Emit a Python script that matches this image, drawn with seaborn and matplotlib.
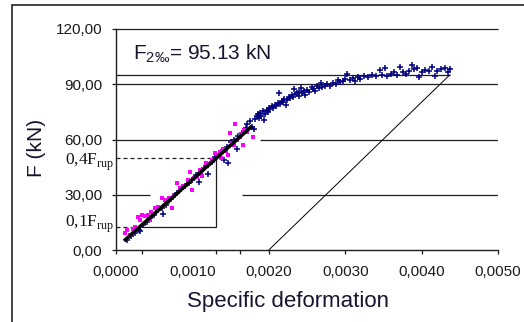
import matplotlib
matplotlib.use('Agg')
import matplotlib.pyplot as plt
import seaborn as sns
import pandas as pd
from matplotlib.patches import Rectangle

sns.set_theme(style='white')
plt.rcParams['font.family'] = ['Liberation Sans', 'DejaVu Sans']

# ---- data (strain in units of 0.001, force in kN) ----
blue_eps = [0.15, 0.2, 0.25, 0.3, 0.35, 0.4, 0.45, 0.5, 0.55, 0.6, 0.65, 0.7, 0.75, 0.8,
            0.85, 0.9, 0.95, 1.0, 1.05, 1.1, 1.15, 1.2, 1.25, 1.3, 1.35, 1.4, 1.45, 1.5,
            1.55, 1.6, 1.65, 1.7, 0.62, 1.08, 1.42, 1.58, 1.2, 0.32, 1.47,
            1.72, 1.76, 1.78, 1.80, 1.82, 1.84, 1.86, 1.87, 1.89, 1.9, 1.92, 1.94, 1.95,
            1.97, 1.99, 2.0, 2.02, 2.04, 2.06, 2.08, 2.1, 2.12, 2.13, 2.15, 2.17, 2.19,
            2.2, 2.22, 2.24, 2.26, 2.28, 2.3, 2.32, 2.33, 2.35, 2.37, 2.39, 2.4, 2.42,
            2.44, 2.46, 2.48, 2.5, 2.53, 2.56, 2.58, 2.6, 2.63, 2.66, 2.68, 2.7, 2.73,
            2.76, 2.8, 2.84, 2.88, 2.9, 2.93, 2.97, 3.0, 3.02, 3.06, 3.1, 3.13, 3.17,
            3.2, 3.25, 3.3, 3.35, 3.4, 3.45, 3.48, 3.52, 3.55, 3.6, 3.64, 3.68, 3.72,
            3.76, 3.8, 3.84, 3.88, 3.9, 3.94, 3.97, 4.0, 4.05, 4.1, 4.14, 4.17, 4.2,
            4.25, 4.3, 4.34, 4.37]
blue_F = [5.5, 7.5, 9.5, 11.0, 13.5, 15.0, 17.5, 19.0, 21.5, 23.0, 24.5, 26.5, 29.0, 31.0,
          33.0, 34.5, 36.5, 38.0, 40.5, 42.0, 44.5, 46.0, 48.0, 50.5, 52.0, 54.5, 56.0, 58.5,
          60.0, 62.0, 63.5, 66.0, 19.5, 37.0, 49.0, 55.0, 41.5, 10.2, 47.5,
          68.5, 69.8, 67.0, 65.5, 71.0, 72.5, 73.8, 71.5, 74.5, 73.0, 75.5, 70.5, 74.0,
          76.0, 75.0, 77.0, 76.5, 78.0, 77.0, 79.0, 78.2, 80.0, 85.0, 79.5, 81.0, 80.5,
          82.0, 78.5, 81.5, 83.0, 82.5, 84.0, 83.0, 87.5, 84.5, 85.5, 83.5, 86.0, 88.0,
          85.0, 86.5, 84.0, 87.0, 86.0, 88.5, 87.5, 86.5, 89.0, 87.8, 90.5, 88.5, 89.0,
          90.0, 89.2, 90.8, 90.0, 92.5, 91.0, 91.8, 93.0, 95.5, 92.5, 93.5, 92.0, 93.8,
          93.0, 94.5, 93.8, 95.2, 94.5, 97.5, 95.0, 98.8, 94.3, 95.5, 96.5, 95.0, 99.5,
          96.5, 95.5, 97.2, 100.5, 98.5, 99.0, 94.0, 96.5, 98.0, 97.0, 99.2, 94.5, 97.0,
          98.2, 99.0, 96.5, 98.3]

mag_eps = [0.12, 0.14, 0.18, 0.22, 0.29, 0.31, 0.34, 0.38, 0.42, 0.46, 0.51, 0.55, 0.6,
           0.64, 0.68, 0.73, 0.76, 0.8, 0.84, 0.88, 0.94, 0.97, 0.99, 1.02, 1.06, 1.1,
           1.14, 1.18, 1.22, 1.26, 1.3, 1.33, 1.36, 1.4, 1.44, 1.47, 1.49, 1.52, 1.55,
           1.56, 1.59, 1.62, 1.64, 1.66, 1.68, 1.72, 1.79, 0.25, 0.45, 0.7, 1.12, 1.38]
mag_F = [9.2, 10.9, 8.0, 11.5, 17.9, 16.3, 19.0, 18.5, 19.0, 20.5, 22.8, 23.5, 28.2,
         27.0, 26.0, 22.8, 30.0, 36.4, 33.5, 35.0, 38.0, 42.3, 32.6, 39.0, 39.6, 43.5,
         44.0, 47.0, 46.5, 49.0, 52.7, 51.0, 53.2, 55.0, 54.0, 51.6, 63.5, 58.0, 57.0,
         68.4, 59.5, 61.3, 63.0, 57.0, 65.0, 64.0, 61.3, 12.5, 16.5, 28.5, 40.0, 50.0]

fit_eps = [0.105, 1.78]
fit_F = [4.9, 67.3]
offset_eps = [2.0, 4.37]
offset_F = [0.0, 95.13]
F2 = 95.13
F01 = 12.5
F04 = 50.0
eps01 = 0.34
eps04 = 1.31

x_ticks = [0.0, 0.001, 0.002, 0.003, 0.004, 0.005]
x_tick_labels = ['0,0000', '0,0010', '0,0020', '0,0030', '0,0040', '0,0050']
y_ticks = [0, 30, 60, 90, 120]
y_tick_labels = ['0,00', '30,00', '60,00', '90,00', '120,00']

s = 1e-3
blue = pd.DataFrame({'eps': [e * s for e in blue_eps], 'F': blue_F})
mag = pd.DataFrame({'eps': [e * s for e in mag_eps], 'F': mag_F})
fit = pd.DataFrame({'eps': [e * s for e in fit_eps], 'F': fit_F})
off = pd.DataFrame({'eps': [e * s for e in offset_eps], 'F': offset_F})

W, H = 524, 322
fig = plt.figure(figsize=(W / 100, H / 100), dpi=100)
fig.patch.set_facecolor('white')
ax = fig.add_axes([116 / W, 1 - 250 / H, (498 - 116) / W, (250 - 29) / H])
ax.set_facecolor('white')
ax.set_xlim(0, 0.005)
ax.set_ylim(0, 120)

gc = '#1e1e1e'
glw = 0.9
# gridlines (some segments are interrupted in the original)
ax.hlines(120, 0, 0.005, color=gc, lw=glw, clip_on=False)
ax.hlines(90, 0, 0.005, color=gc, lw=glw)
ax.hlines(60, 0, 0.00152, color=gc, lw=glw)
ax.hlines(60, 0.00189, 0.005, color=gc, lw=glw)
ax.hlines(30, 0, 0.00045, color=gc, lw=glw)
ax.hlines(30, 0.00165, 0.005, color=gc, lw=glw)
ax.hlines(F2, 0, offset_eps[1] * s, color=gc, lw=glw)

# construction lines
ax.hlines(F04, 0, eps04 * s, color=gc, lw=0.9, linestyles=(0, (3.2, 2.4)))
ax.hlines(F01, 0, eps01 * s, color=gc, lw=0.9, linestyles=(0, (3.2, 2.4)))
ax.hlines(F01, eps01 * s, eps04 * s, color=gc, lw=0.9)
ax.vlines(eps04 * s, F01, F04, color=gc, lw=0.9)

sns.lineplot(data=off, x='eps', y='F', ax=ax, color='black', lw=0.7)

sns.scatterplot(data=blue, x='eps', y='F', ax=ax, marker='+', s=18,
                color='#000080', linewidth=1.1, clip_on=False, zorder=3)
sns.scatterplot(data=mag, x='eps', y='F', ax=ax, marker='s', s=6,
                color='#FF00FF', linewidth=0, clip_on=False, zorder=4)
sns.lineplot(data=fit, x='eps', y='F', ax=ax, color='black', lw=2.6, zorder=5,
             solid_capstyle='butt')

# axes styling
for sp in ['top', 'right']:
    ax.spines[sp].set_visible(False)
for sp in ['left', 'bottom']:
    ax.spines[sp].set_color(gc)
    ax.spines[sp].set_linewidth(1.0)

ax.set_xticks(x_ticks)
ax.set_xticklabels(x_tick_labels)
ax.set_yticks(y_ticks)
ax.set_yticklabels(y_tick_labels)
ax.set_xticks([eps01 * s, eps04 * s, 0.00162], minor=True)
ax.tick_params(axis='both', which='both', direction='out', length=3, width=0.9,
               color=gc, labelcolor='#1a1a1a', labelsize=11, bottom=True, left=True)
ax.tick_params(axis='x', pad=8)
ax.tick_params(axis='y', pad=7)
ax.xaxis.get_major_ticks()[1].tick1line.set_visible(False)
ax.set_xlabel('')
ax.set_ylabel('')
ax.grid(False)

# texts
ax.text(0.000222, 103.7, 'F$_{\\mathregular{2‰}}$= 95.13 kN', fontsize=15,
        color='#151530', ha='left', va='baseline')
fig.text(114 / W, 1 - 165 / H, '0,4F$_{\\mathregular{rup}}$', fontsize=12.5,
         family='Liberation Serif', ha='right', va='baseline', color='#151515')
fig.text(114 / W, 1 - 227 / H, '0,1F$_{\\mathregular{rup}}$', fontsize=12.5,
         family='Liberation Serif', ha='right', va='baseline', color='#151515')
fig.text(288 / W, 1 - 302 / H, 'Specific deformation', fontsize=16,
         color='#151530', ha='center', va='center')
fig.text(37 / W, 1 - 148 / H, 'F (kN)', fontsize=15, rotation=90,
         color='#151530', ha='center', va='center')

# outer frame (cut off at right and bottom)
fig.patches.append(Rectangle((12 / W, -0.5), 2.0, 0.5 + 1 - 5 / H,
                             transform=fig.transFigure, fill=False,
                             lw=1.2, ec='#222222'))

fig.savefig('out.png', dpi=100)
